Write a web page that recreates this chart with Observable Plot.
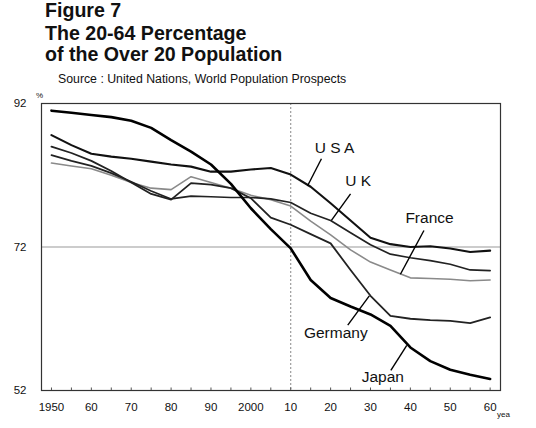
<!DOCTYPE html>
<html>
<head>
<meta charset="utf-8">
<script src="https://cdn.jsdelivr.net/npm/d3@7"></script>
<script src="https://cdn.jsdelivr.net/npm/@observablehq/plot@0.6"></script>
<style>
  html, body { margin: 0; padding: 0; background: #fff; }
  #wrap { position: relative; width: 536px; height: 428px; overflow: hidden; font-family: "Liberation Sans", Arial, sans-serif; color: #111; }
  .t { position: absolute; white-space: nowrap; }
  .head { left: 45px; font-family: "Liberation Sans", Arial, sans-serif; font-weight: bold; font-size: 19.6px; line-height: 1; }
  #chart { position: absolute; left: 0; top: 88px; }
</style>
</head>
<body>
<div id="wrap">
  <div class="t head" style="top:1px;">Figure 7</div>
  <div class="t head" style="top:24px;">The 20-64 Percentage</div>
  <div class="t head" style="top:45px;">of the Over 20 Population</div>
  <div class="t" style="left:58px; top:72px; font-size:12.3px;">Source : United Nations, World Population Prospects</div>
  <div class="t" style="left:36px; top:91px; font-size:8px;">%</div>
  <div class="t" style="left:497px; top:410px; font-size:8px;">yea</div>
  <div id="chart"></div>
</div>
<script>
const years = [1950,1955,1960,1965,1970,1975,1980,1985,1990,1995,2000,2005,2010,2015,2020,2025,2030,2035,2040,2045,2050,2055,2060];

const japan   = [91.0,90.7,90.4,90.1,89.6,88.6,86.9,85.3,83.5,80.8,77.4,74.5,71.8,67.4,64.9,63.7,62.6,61.0,58.0,56.1,54.9,54.2,53.6];
const usa     = [87.6,86.2,85.0,84.6,84.3,83.9,83.5,83.2,82.5,82.5,82.8,83.0,82.1,80.4,78.1,75.7,73.3,72.4,72.0,72.1,71.8,71.3,71.5];
const uk      = [84.8,84.0,83.3,82.3,81.1,79.8,78.7,79.1,79.0,78.9,78.9,78.7,78.2,76.7,75.7,74.0,72.3,71.0,70.5,70.1,69.6,68.8,68.7];
const france  = [83.7,83.3,82.9,82.0,81.0,80.2,80.0,81.8,81.0,80.2,79.2,78.6,77.7,75.6,73.7,71.6,69.9,68.8,67.7,67.6,67.5,67.3,67.4];
const germany = [86.0,85.1,84.0,82.6,81.0,79.4,78.6,80.9,80.7,80.2,78.8,76.1,75.1,73.8,72.5,68.8,65.2,62.4,62.0,61.8,61.7,61.4,62.2];

const seriesNames  = ["France","UK","Germany","USA","Japan"];
const seriesValues = [france, uk, germany, usa, japan];
const seriesColor  = ["#8a8a8a","#222","#222","#111","#000"];
const seriesWidth  = [1.6, 1.7, 1.8, 2.1, 2.6];

const xTickValues = [1950,1960,1970,1980,1990,2000,2010,2020,2030,2040,2050,2060];
const xTickLabels = ["1950","60","70","80","90","2000","10","20","30","40","50","60"];
const yTickValues = [52,72,92];
const minorTicks  = d3.range(1950, 2061, 5);

const labelNames = ["U S A","U K","France","Germany","Japan"];
const labelX     = [2021.0, 2026.9, 2044.8, 2021.3, 2033.1];
const labelY     = [85.8, 81.2, 76.0, 60.0, 53.9];
const leaderX1   = [2017.7, 2025.0, 2043.4, 2024.3, 2035.1];
const leaderY1   = [84.3, 79.4, 74.3, 61.1, 54.8];
const leaderX2   = [2014.2, 2020.2, 2037.5, 2029.7, 2039.1];
const leaderY2   = [80.5, 75.7, 68.2, 65.2, 58.3];

const rows = [];
seriesNames.forEach((name, i) => {
  years.forEach((yr, j) => rows.push({name, year: yr, value: seriesValues[i][j]}));
});
const labels = labelNames.map((t, i) => ({t, x: labelX[i], y: labelY[i]}));
const leaders = labelNames.map((t, i) => ({x1: leaderX1[i], y1: leaderY1[i], x2: leaderX2[i], y2: leaderY2[i]}));

const lineMarks = seriesNames.map((name, i) =>
  Plot.line(rows.filter(d => d.name === name), {
    x: "year", y: "value", stroke: seriesColor[i], strokeWidth: seriesWidth[i],
    strokeLinejoin: "round", strokeLinecap: "round"
  })
);

const chart = Plot.plot({
  width: 536,
  height: 340,
  marginTop: 15,
  marginBottom: 38,
  marginLeft: 41,
  marginRight: 36,
  style: { fontFamily: "'Liberation Sans', Arial, sans-serif", background: "transparent", overflow: "visible" },
  x: { domain: [1947.5, 2062.6] },
  y: { domain: [52, 92] },
  marks: [
    Plot.ruleY([72], { stroke: "#999", strokeWidth: 1 }),
    Plot.ruleX([2010], { stroke: "#888", strokeWidth: 1, strokeDasharray: "2,2" }),
    Plot.ruleX(minorTicks, { y1: 52, y2: 52.35, stroke: "#555", strokeWidth: 1 }),
    ...lineMarks,
    Plot.link(leaders, { x1: "x1", y1: "y1", x2: "x2", y2: "y2", stroke: "#000", strokeWidth: 1.4 }),
    Plot.text(labels, { x: "x", y: "y", text: "t", fontSize: 15.5, fill: "#111", textAnchor: "middle", lineAnchor: "middle" }),
    Plot.frame({ stroke: "#333", strokeWidth: 1.2 }),
    Plot.axisX(xTickValues, { tickSize: 0, tickPadding: 12, fontSize: 11.5, fill: "#111", tickFormat: (d, i) => xTickLabels[i], label: null }),
    Plot.axisY(yTickValues, { tickSize: 0, tickPadding: 15, fontSize: 11.5, fill: "#111", label: null })
  ]
});
document.getElementById("chart").appendChild(chart);
</script>
</body>
</html>
